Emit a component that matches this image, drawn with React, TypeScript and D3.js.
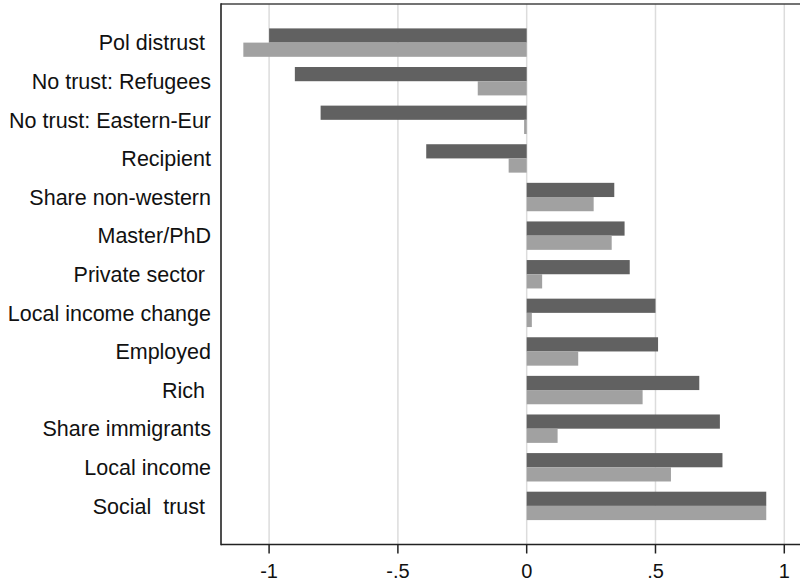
import React from "react";
import * as d3 from "d3";

const categories = [
  "Pol distrust ",
  "No trust: Refugees",
  "No trust: Eastern-Eur",
  "Recipient",
  "Share non-western",
  "Master/PhD",
  "Private sector ",
  "Local income change",
  "Employed",
  "Rich ",
  "Share immigrants",
  "Local income",
  "Social  trust ",
];
const seriesDark = [-1.0, -0.9, -0.8, -0.39, 0.34, 0.38, 0.4, 0.5, 0.51, 0.67, 0.75, 0.76, 0.93];
const seriesLight = [-1.1, -0.19, -0.01, -0.07, 0.26, 0.33, 0.06, 0.02, 0.2, 0.45, 0.12, 0.56, 0.93];
const tickValues = [-1, -0.5, 0, 0.5, 1];
const tickLabels = ["-1", "-.5", "0", ".5", "1"];

const W = 800;
const H = 581;
const left = 221;
const right = 800;
const top = 4;
const bottom = 544.5;
const font = "'Liberation Sans', Arial, Helvetica, sans-serif";

export default function App() {
  const x = d3.scaleLinear().domain([-1.1867, 1.061]).range([left, right]);
  const y = d3.scalePoint<string>().domain(categories).range([top, bottom]).padding(1);
  const bh = 14.2;
  return (
    <div style={{ position: "fixed", left: 0, top: 0, width: W, height: H, background: "#fff" }}>
      <svg width={W} height={H} style={{ display: "block" }}>
        <rect x={0} y={0} width={W} height={H} fill="#fff" />
        {tickValues.map((t) => (
          <line key={"g" + t} x1={x(t)} x2={x(t)} y1={top} y2={bottom} stroke="#dcdcdc" strokeWidth={1.5} />
        ))}
        {categories.map((c, i) => {
          const cy = y(c)!;
          const d = seriesDark[i];
          const l = seriesLight[i];
          return (
            <g key={c}>
              <rect x={Math.min(x(0), x(d))} y={cy - bh} width={Math.abs(x(d) - x(0))} height={bh} fill="#616161" />
              <rect x={Math.min(x(0), x(l))} y={cy} width={Math.abs(x(l) - x(0))} height={bh} fill="#a1a1a1" />
              <text
                x={211}
                y={cy}
                dy="0.36em"
                textAnchor="end"
                fontFamily={font}
                fontSize={21.5}
                fill="#111"
                style={{ whiteSpace: "pre" }}
              >
                {c}
              </text>
            </g>
          );
        })}
        <line x1={left} x2={right} y1={top} y2={top} stroke="#444" strokeWidth={1.6} />
        <line x1={left} x2={left} y1={top - 0.8} y2={bottom + 0.8} stroke="#222" strokeWidth={1.6} />
        <line x1={left} x2={right} y1={bottom} y2={bottom} stroke="#222" strokeWidth={1.6} />
        {tickValues.map((t, i) => (
          <g key={"t" + t}>
            <line x1={x(t)} x2={x(t)} y1={bottom} y2={bottom + 9} stroke="#222" strokeWidth={1.5} />
            <text x={x(t)} y={578} textAnchor="middle" fontFamily={font} fontSize={20} fill="#111">
              {tickLabels[i]}
            </text>
          </g>
        ))}
      </svg>
    </div>
  );
}
